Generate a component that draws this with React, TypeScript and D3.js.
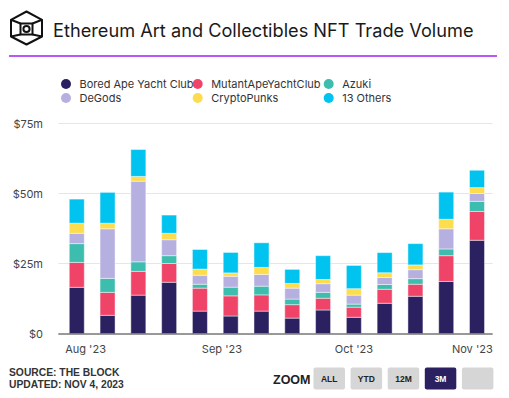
import React from "react";
import * as d3 from "d3";

const weeks = [
  "2023-07-30", "2023-08-06", "2023-08-13", "2023-08-20", "2023-08-27",
  "2023-09-03", "2023-09-10", "2023-09-17", "2023-09-24", "2023-10-01",
  "2023-10-08", "2023-10-15", "2023-10-22", "2023-10-29",
];

const seriesNames = ["Bored Ape Yacht Club", "MutantApeYachtClub", "Azuki", "DeGods", "CryptoPunks", "13 Others"];
const seriesColors = ["#2b2160", "#ef4468", "#3dbdad", "#b6b0e0", "#fddc4e", "#00c3ef"];

const bayc = [16.5, 6.5, 13.7, 18.3, 8.0, 6.25, 8.0, 5.5, 8.4, 5.8, 10.8, 13.3, 18.6, 33.3];
const mayc = [8.9, 8.2, 8.5, 6.7, 8.2, 7.2, 5.8, 4.8, 4.2, 3.6, 5.0, 4.3, 9.2, 10.3];
const azuki = [6.7, 5.0, 3.4, 2.8, 1.4, 3.1, 3.1, 2.0, 2.1, 1.1, 1.7, 2.0, 2.4, 3.6];
const degods = [3.7, 17.7, 28.8, 5.7, 3.2, 3.9, 4.2, 3.9, 3.1, 3.2, 2.5, 3.2, 7.2, 2.8];
const punks = [3.6, 2.0, 1.7, 2.3, 2.2, 1.2, 2.5, 1.7, 1.5, 2.3, 1.7, 1.7, 3.4, 2.1];
const others = [8.6, 11.0, 9.6, 6.5, 7.0, 7.3, 8.8, 5.0, 8.5, 8.3, 7.2, 7.6, 9.7, 6.2];

const yTicks = [0, 25, 50, 75];
const yTickLabels = ["$0", "$25m", "$50m", "$75m"];
const xTickDates = ["2023-08-01", "2023-09-01", "2023-10-01", "2023-11-01"];
const xTickLabels = ["Aug '23", "Sep '23", "Oct '23", "Nov '23"];
const zoomButtons = ["ALL", "YTD", "12M", "3M", ""];

const parse = d3.timeParse("%Y-%m-%d");

export default function App() {
  const W = 509, H = 398;
  const plotL = 58.3, plotR = 492.7;
  const x = d3.scaleTime()
    .domain([new Date(2023, 6, 25, 19, 12), new Date(2023, 10, 1, 13, 40)])
    .range([plotL, plotR]);
  const y = d3.scaleLinear().domain([0, 75]).range([333.5, 123.5]);
  const barW = 15;

  const all = [bayc, mayc, azuki, degods, punks, others];
  const rows = weeks.map((w, i) => {
    const r: any = { date: parse(w) };
    seriesNames.forEach((s, k) => (r[s] = all[k][i]));
    return r;
  });
  const stack = d3.stack().keys(seriesNames)(rows as any);

  const font = "Inter, 'Noto Sans', sans-serif";
  const hex = [[26.5, 11.5], [42, 19.8], [42, 36.5], [26.5, 44.5], [11, 36.5], [11, 19.8]];

  return (
    <svg width={W} height={H} style={{ position: "absolute", left: 0, top: 0, background: "#fff" }} fontFamily={font}>
      {/* logo */}
      <g fill="none" stroke="#111" strokeWidth={2} strokeLinejoin="round">
        <polygon points={hex.map((p) => p.join(",")).join(" ")} />
        <rect x={20.5} y={23.5} width={12} height={11} />
        <circle cx={26.5} cy={29} r={3.1} />
        <line x1={11} y1={19.8} x2={20.5} y2={23.5} />
        <line x1={42} y1={19.8} x2={32.5} y2={23.5} />
        <line x1={11} y1={36.5} x2={20.5} y2={34.5} />
        <line x1={42} y1={36.5} x2={32.5} y2={34.5} />
      </g>
      <text x={53} y={36.5} fontSize={18.2} fill="#1a1a1a">Ethereum Art and Collectibles NFT Trade Volume</text>
      <line x1={9} x2={497} y1={56} y2={56} stroke="#a41ff0" strokeWidth={1.5} />

      {/* legend */}
      {seriesNames.map((s, i) => {
        const col = i % 3, row = Math.floor(i / 3);
        const cx = [66, 197.7, 328.7][col];
        const cy = 84 + row * 14;
        return (
          <g key={s}>
            <circle cx={cx} cy={cy} r={5} fill={seriesColors[i]} />
            <text x={cx + 13.5} y={cy + 4} fontSize={11} fill="#333">{s}</text>
          </g>
        );
      })}

      {/* grid */}
      {yTicks.map((t, i) => (
        <g key={t}>
          {t > 0 && <line x1={plotL} x2={plotR} y1={y(t)} y2={y(t)} stroke="#e6e6e6" strokeWidth={1} />}
          <text x={43} y={y(t) + 4} fontSize={11} fill="#444" textAnchor="end">{yTickLabels[i]}</text>
        </g>
      ))}

      {/* bars */}
      {stack.map((layer, k) => (
        <g key={k} fill={seriesColors[k]}>
          {layer.map((d: any, i: number) => {
            const cx = x(rows[i].date);
            return (
              <rect key={i} x={cx - barW / 2} y={y(d[1])} width={barW} height={Math.max(0, y(d[0]) - y(d[1]))}
                stroke="rgba(255,255,255,0.45)" strokeWidth={1} />
            );
          })}
        </g>
      ))}

      <line x1={plotL} x2={plotR} y1={334} y2={334} stroke="#333" strokeWidth={1} />

      {/* x ticks */}
      {xTickDates.map((d, i) => {
        const px = x(parse(d)!);
        const last = px + 17 > plotR;
        return (
          <text key={d} x={last ? plotR : px} y={353} fontSize={11} fill="#444" textAnchor={last ? "end" : "middle"}>
            {xTickLabels[i]}
          </text>
        );
      })}

      {/* footer */}
      <g fontFamily="'Liberation Sans', Arial, sans-serif" fontWeight="bold" fill="#333" fontSize={10.3}>
        <text x={9} y={375.5}>SOURCE: THE BLOCK</text>
        <text x={9} y={388}>UPDATED: NOV 4, 2023</text>
        <text x={273} y={383.5} fontSize={12.5} fill="#222">ZOOM</text>
      </g>
      {zoomButtons.map((b, i) => {
        const bx = 313.5 + i * 37.1;
        const sel = b === "3M";
        return (
          <g key={i}>
            <rect x={bx} y={367.5} width={31.5} height={22} rx={2} fill={sel ? "#2b2160" : "#d6d6d6"} />
            <text x={bx + 15.75} y={382} fontSize={8.5} fontWeight="bold" textAnchor="middle"
              fontFamily="'Liberation Sans', Arial, sans-serif" fill={sel ? "#fff" : "#222"}>{b}</text>
          </g>
        );
      })}
    </svg>
  );
}
